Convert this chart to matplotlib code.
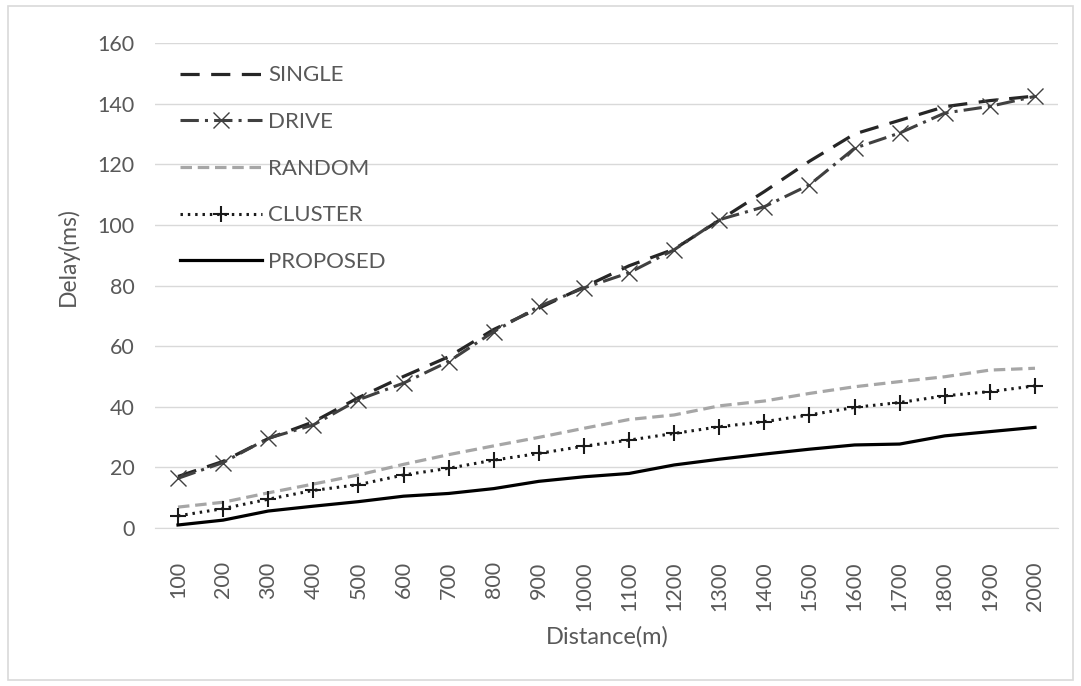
import matplotlib.pyplot as plt
from matplotlib.patches import Rectangle

plt.rcParams['font.family'] = ['Lato', 'DejaVu Sans']

distance = ['100', '200', '300', '400', '500', '600', '700', '800', '900', '1000',
            '1100', '1200', '1300', '1400', '1500', '1600', '1700', '1800', '1900', '2000']

single = [17, 22, 29.5, 35, 43, 50, 56.5, 65.5, 72.5, 79.5,
          86.5, 92, 101.5, 111, 121, 130, 134.5, 139, 141, 142.5]
drive = [16.4, 21.6, 29.6, 34.0, 42.3, 47.8, 54.9, 64.8, 73.1, 79.2,
         84.2, 91.8, 101.7, 106.0, 113.2, 125.3, 130.3, 136.9, 139.1, 142.4]
random_ = [6.9, 8.5, 11.6, 14.5, 17.5, 21.0, 24.2, 27.1, 29.9, 32.9,
           35.8, 37.3, 40.3, 41.9, 44.4, 46.6, 48.3, 49.9, 52.1, 52.7]
cluster = [4.0, 6.4, 9.5, 12.4, 14.3, 17.5, 19.7, 22.4, 24.6, 27.0,
           29.0, 31.2, 33.4, 35.1, 37.3, 39.8, 41.4, 43.6, 45.0, 46.9]
proposed = [1.0, 2.6, 5.6, 7.2, 8.7, 10.5, 11.4, 13.0, 15.4, 16.9,
            18.0, 20.8, 22.7, 24.4, 26.0, 27.4, 27.7, 30.4, 31.8, 33.2]

TXT = '#595959'
GRID = '#d9d9d9'

fig = plt.figure(figsize=(10.81, 6.86), dpi=100)
ax = fig.add_axes([0.1438, 0.2303, 0.8345, 0.707])

# outer chart border like the excel chart area
fig.patches.append(Rectangle((0.007, 0.009), 0.986, 0.982, transform=fig.transFigure,
                             fill=False, edgecolor=GRID, linewidth=1.2))

x = list(range(len(distance)))
ax.plot(x, single, color='#262626', lw=2.3, dashes=(6, 3.6), label='SINGLE')
ax.plot(x, drive, color='#404040', lw=2.2, dashes=(6, 2, 1, 2), marker='x',
        markersize=11, markeredgewidth=1.0, label='DRIVE')
ax.plot(x, random_, color='#a6a6a6', lw=2.3, dashes=(3.6, 1.8), label='RANDOM')
ax.plot(x, cluster, color='#1a1a1a', lw=2.2, dashes=(0.8, 1.6), marker='+',
        markersize=12, markeredgewidth=1.5, label='CLUSTER')
ax.plot(x, proposed, color='black', lw=2.3, label='PROPOSED')

ax.set_xlim(-0.5, len(distance) - 0.5)
ax.set_ylim(0, 160)
ax.set_yticks(range(0, 161, 20))
ax.set_xticks(x)
ax.set_xticklabels(distance, rotation=90)
ax.tick_params(length=0, labelsize=15.5, colors=TXT)
ax.tick_params(axis='y', pad=15)
ax.tick_params(axis='x', pad=24)
ax.grid(axis='y', color=GRID, lw=1)
ax.set_axisbelow(True)
for s in ['top', 'right', 'left']:
    ax.spines[s].set_visible(False)
ax.spines['bottom'].set_color(GRID)

# axis titles placed where excel put them
fig.text(607 / 1081, 1 - 637 / 686, 'Distance(m)', fontsize=17, color=TXT,
         ha='center', va='center')
fig.text(68 / 1081, 1 - 257 / 686, 'Delay(ms)', fontsize=16.5, color=TXT,
         ha='center', va='center', rotation=90)

leg = ax.legend(loc='upper left', bbox_to_anchor=(0.017, 0.972), frameon=False,
                fontsize=16, handlelength=3.7, handletextpad=0.27,
                labelspacing=1.2, borderaxespad=0.0)
for t in leg.get_texts():
    t.set_color(TXT)

fig.savefig('out.png', dpi=100, facecolor='white')
